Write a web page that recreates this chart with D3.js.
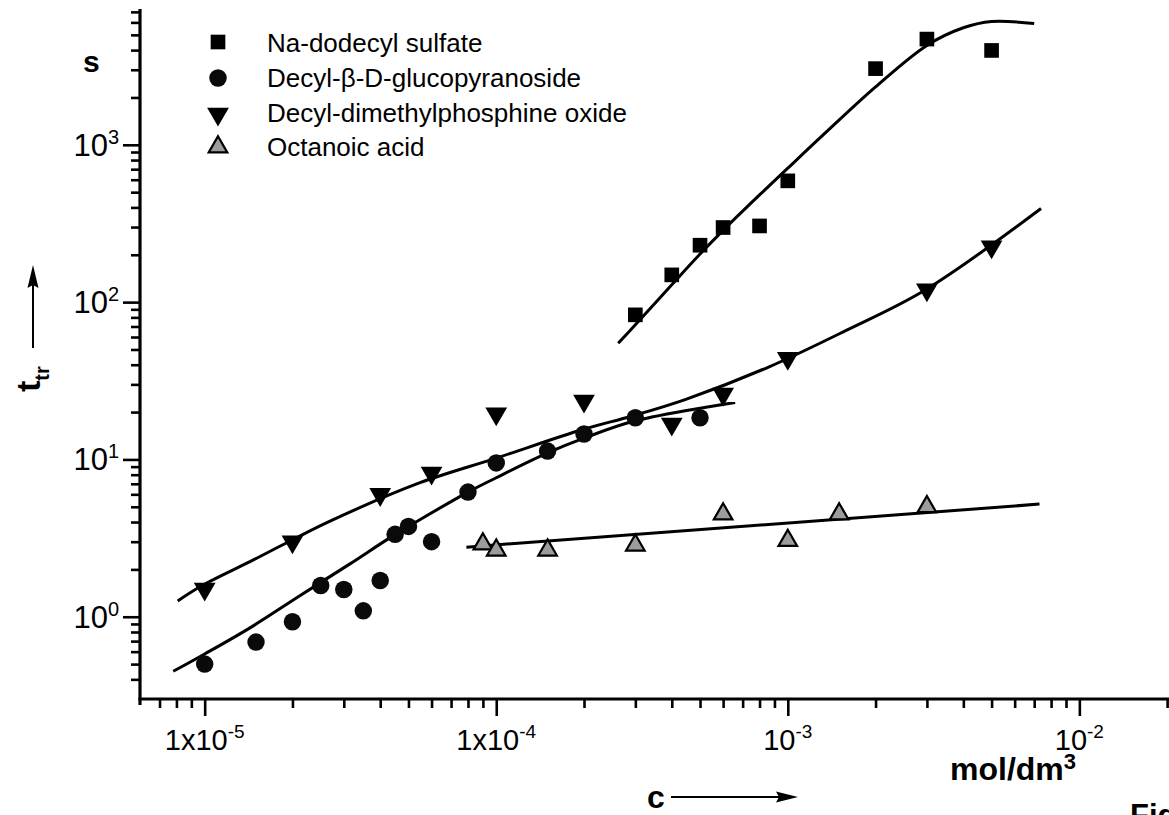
<!DOCTYPE html>
<html><head><meta charset="utf-8">
<script src="https://cdn.jsdelivr.net/npm/d3@7"></script>
<style>
html,body{margin:0;padding:0;background:#fff;}
svg{display:block;}
text{font-family:"Liberation Sans",Arial,Helvetica,sans-serif;fill:#000;}
</style></head><body>
<svg id="chart" width="1169" height="815"></svg>
<script>
// Transition time t_tr (s) versus surfactant concentration c (mol/dm3)

// Na-dodecyl sulfate
const sdsC = [3e-4, 4e-4, 5e-4, 6e-4, 8e-4, 1e-3, 2e-3, 3e-3, 5e-3];
const sdsT = [83, 149, 230, 298, 305, 590, 3050, 4700, 3980];
const sdsFitC = [2.62e-4, 3e-4, 4e-4, 5e-4, 6e-4, 8e-4, 1e-3, 1.3e-3, 2e-3, 3e-3, 4e-3, 5e-3, 7e-3];
const sdsFitT = [54.7, 71.8, 129, 202, 286, 480, 710, 1122, 2335, 4285, 5545, 6080, 5900];

// Decyl-beta-D-glucopyranoside
const gluC = [1e-5, 1.5e-5, 2e-5, 2.5e-5, 3e-5, 3.5e-5, 4e-5, 4.5e-5, 5e-5, 6e-5, 8e-5, 1e-4, 1.5e-4, 2e-4, 3e-4, 5e-4];
const gluT = [0.5, 0.69, 0.93, 1.58, 1.49, 1.09, 1.70, 3.34, 3.75, 3.0, 6.2, 9.5, 11.3, 14.5, 18.4, 18.4];
const gluFitC = [7.8e-6, 1e-5, 1.43e-5, 2.12e-5, 3.14e-5, 4.3e-5, 5.45e-5, 8e-5, 1e-4, 1.5e-4, 2e-4, 3e-4, 6.6e-4];
const gluFitT = [0.45, 0.58, 0.85, 1.36, 2.16, 3.16, 4.12, 6.2, 7.65, 11.0, 13.65, 17.6, 23.0];

// Decyl-dimethylphosphine oxide
const phoC = [1e-5, 2e-5, 4e-5, 6e-5, 1e-4, 2e-4, 4e-4, 6e-4, 1e-3, 3e-3, 5e-3];
const phoT = [1.5, 3.0, 6.0, 8.2, 19.5, 23.5, 16.8, 26, 44, 120, 225];
const phoFitC = [8.08e-6, 9.87e-6, 1.43e-5, 1.95e-5, 2.68e-5, 5.45e-5, 1e-4, 1.98e-4, 2.93e-4, 4.47e-4, 8.63e-4, 1.58e-3, 2.95e-3, 7.39e-3];
const phoFitT = [1.26, 1.59, 2.24, 3.01, 4.04, 7.09, 10.2, 15.5, 18.9, 24.1, 38.8, 65.9, 119, 394];

// Octanoic acid
const octC = [9e-5, 1e-4, 1.5e-4, 3e-4, 6e-4, 1e-3, 1.5e-3, 3e-3];
const octT = [2.9, 2.65, 2.65, 2.85, 4.5, 3.05, 4.5, 5.0];
const octFitC = [7.9e-5, 7.3e-3];
const octFitT = [2.77, 5.2];

// axis ticks and labels
const xTickVals = [1e-5, 1e-4, 1e-3, 1e-2];
const xTickMant = ["1x10", "1x10", "10", "10"];
const xTickExp = ["-5", "-4", "-3", "-2"];
const yTickVals = [1, 10, 100, 1000];
const yTickMant = ["10", "10", "10", "10"];
const yTickExp = ["0", "1", "2", "3"];

const legendNames = ["Na-dodecyl sulfate", "Decyl-\u03B2-D-glucopyranoside", "Decyl-dimethylphosphine oxide", "Octanoic acid"];

const svg = d3.select("#chart");
const x = d3.scaleLog().domain([6e-6, 2.03e-2]).range([140, 1169]);
const y = d3.scaleLog().domain([0.3, 7300]).range([699, 9]);

function minorTicks(scale) {
  const [a, b] = scale.domain();
  const out = [];
  for (let e = Math.floor(Math.log10(a)); e <= Math.ceil(Math.log10(b)); e++) {
    for (let k = 2; k <= 9; k++) {
      const v = k * Math.pow(10, e);
      if (v >= a * 1.0001 && v <= b) out.push(v);
    }
  }
  return out;
}

const tickStyle = g => {
  g.select(".domain").remove();
  g.selectAll(".tick line").attr("stroke", "#000").attr("stroke-width", 2.6);
};

// x axis
svg.append("g").attr("transform", "translate(0,699)")
  .call(d3.axisBottom(x).tickValues(minorTicks(x)).tickSize(9).tickFormat(""))
  .call(tickStyle);
svg.append("g").attr("transform", "translate(0,699)")
  .call(d3.axisBottom(x).tickValues(xTickVals).tickSize(17).tickFormat(""))
  .call(tickStyle);
// y axis
svg.append("g").attr("transform", "translate(140,0)")
  .call(d3.axisLeft(y).tickValues(minorTicks(y)).tickSize(9).tickFormat(""))
  .call(tickStyle);
svg.append("g").attr("transform", "translate(140,0)")
  .call(d3.axisLeft(y).tickValues(yTickVals).tickSize(17).tickFormat(""))
  .call(tickStyle);

svg.append("line").attr("x1", 140).attr("x2", 140).attr("y1", y.range()[1]).attr("y2", 705)
  .attr("stroke", "#000").attr("stroke-width", 3.2);
svg.append("line").attr("x1", 138.4).attr("x2", 1169).attr("y1", 699).attr("y2", 699)
  .attr("stroke", "#000").attr("stroke-width", 3.2);

// tick labels
xTickVals.forEach((v, i) => {
  const t = svg.append("text").attr("x", x(v)).attr("y", 750)
    .attr("text-anchor", "middle").attr("font-size", 29);
  t.append("tspan").text(xTickMant[i]);
  t.append("tspan").attr("font-size", 19).attr("dy", -12).text(xTickExp[i]);
});
yTickVals.forEach((v, i) => {
  const t = svg.append("text").attr("x", 119).attr("y", y(v) + 11)
    .attr("text-anchor", "end").attr("font-size", 31);
  t.append("tspan").text(yTickMant[i]);
  t.append("tspan").attr("font-size", 20).attr("dy", -12).text(yTickExp[i]);
});

// unit labels and axis titles
svg.append("text").attr("x", 83).attr("y", 72).attr("font-size", 30).attr("font-weight", "bold").text("s");

const unit = svg.append("text").attr("x", 950).attr("y", 780).attr("font-size", 32).attr("font-weight", "bold");
unit.append("tspan").text("mol/dm");
unit.append("tspan").attr("font-size", 22).attr("dy", -11).text("3");

svg.append("text").attr("x", 647).attr("y", 808).attr("font-size", 32).attr("font-weight", "bold").text("c");
svg.append("line").attr("x1", 671).attr("x2", 782).attr("y1", 797).attr("y2", 797)
  .attr("stroke", "#000").attr("stroke-width", 2);
svg.append("path").attr("d", "M798,797 L776,791.5 L779,797 L776,802.5 Z").attr("fill", "#000");

const yt = svg.append("text").attr("transform", "translate(40,392) rotate(-90)")
  .attr("font-size", 34).attr("font-weight", "bold");
yt.append("tspan").text("t");
yt.append("tspan").attr("font-size", 20).attr("dy", 9).text("tr");
svg.append("line").attr("x1", 33).attr("x2", 33).attr("y1", 348).attr("y2", 282)
  .attr("stroke", "#000").attr("stroke-width", 2);
svg.append("path").attr("d", "M33,265 L27.5,288 L33,285 L38.5,288 Z").attr("fill", "#000");

svg.append("text").attr("x", 1130).attr("y", 826).attr("font-size", 31).attr("font-weight", "bold").text("Fig");

// fitted curves
const line = d3.line().x(d => x(d[0])).y(d => y(d[1])).curve(d3.curveCatmullRom.alpha(0.5));
const fits = [[sdsFitC, sdsFitT], [gluFitC, gluFitT], [phoFitC, phoFitT], [octFitC, octFitT]];
fits.forEach(([c, t]) => {
  svg.append("path").attr("d", line(c.map((v, i) => [v, t[i]])))
    .attr("fill", "none").attr("stroke", "#000").attr("stroke-width", 3);
});

// symbols
const sym = {
  square: d3.symbol().type(d3.symbolSquare).size(215)(),
  circle: d3.symbol().type(d3.symbolCircle).size(240)(),
  down: d3.symbol().type(d3.symbolTriangle).size(205)(),
  up: d3.symbol().type(d3.symbolTriangle).size(150)()
};
function drawMarks(c, t, kind) {
  const g = svg.append("g");
  c.forEach((v, i) => {
    const p = g.append("path").attr("transform",
      `translate(${x(v)},${y(t[i])})` + (kind === "down" ? " rotate(180)" : ""));
    styleMark(p, kind);
  });
}
function styleMark(p, kind) {
  if (kind === "square") p.attr("d", sym.square).attr("fill", "#000");
  else if (kind === "circle") p.attr("d", sym.circle).attr("fill", "#0a0a0a");
  else if (kind === "down") p.attr("d", sym.down).attr("fill", "#000");
  else p.attr("d", sym.up).attr("fill", "#9c9c9c").attr("stroke", "#000").attr("stroke-width", 2.2);
}
drawMarks(sdsC, sdsT, "square");
drawMarks(gluC, gluT, "circle");
drawMarks(phoC, phoT, "down");
drawMarks(octC, octT, "up");

// legend
const legendKinds = ["square", "circle", "down", "up"];
const legendMarkY = [42, 78, 114, 147];
const legendTextY = [52, 87, 122, 156];
legendNames.forEach((name, i) => {
  const p = svg.append("path").attr("transform",
    `translate(218,${legendMarkY[i]})` + (legendKinds[i] === "down" ? " rotate(180)" : ""));
  styleMark(p, legendKinds[i]);
  svg.append("text").attr("x", 267).attr("y", legendTextY[i]).attr("font-size", 26).text(name);
});
</script>
</body></html>
